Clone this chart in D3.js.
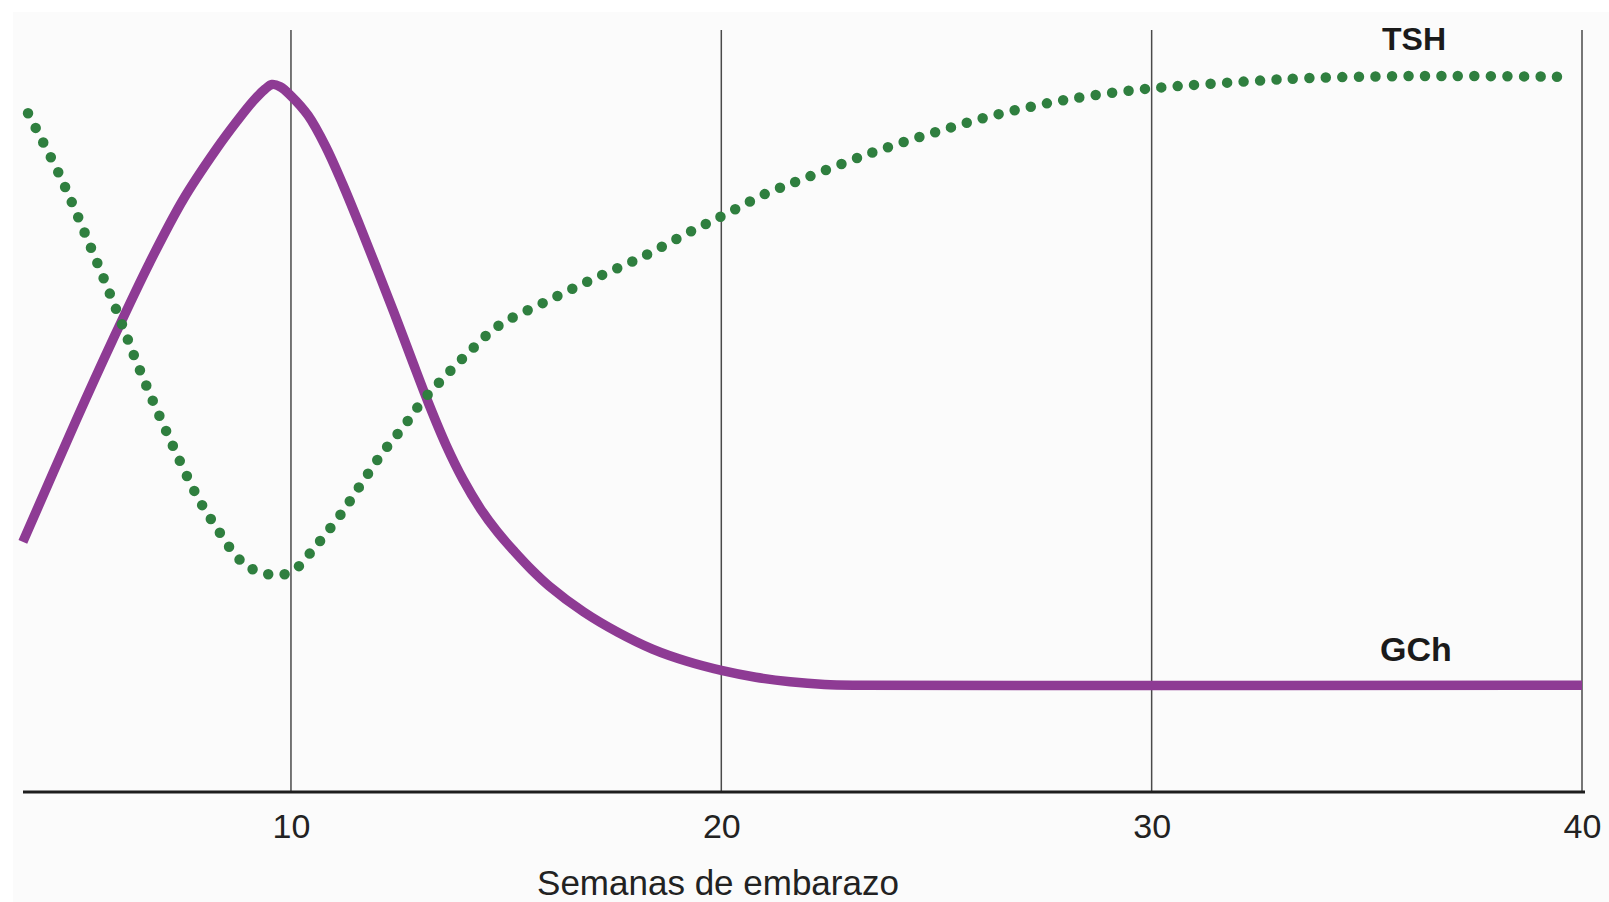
<!DOCTYPE html>
<html>
<head>
<meta charset="utf-8">
<script src="https://cdn.jsdelivr.net/npm/d3@7"></script>
<style>
  html, body { margin: 0; padding: 0; background: #ffffff; }
  svg { display: block; }
  text { font-family: "Liberation Sans", Arial, Helvetica, sans-serif; }
</style>
</head>
<body>
<svg id="chart" width="1609" height="902"></svg>
<script>
// ---- data (weeks of pregnancy, relative level 0-100) ----
const tickWeeks = [10, 20, 30, 40];
const axisTitle = "Semanas de embarazo";

const gchWeeks  = [3.77, 5.0, 5.86, 6.72, 7.49, 8.28, 8.75, 9.12, 9.40, 9.56, 9.75, 10.0, 10.4, 10.8, 11.2, 11.6, 12.0, 12.4, 12.8, 13.2, 13.6, 14.0, 14.4, 14.8, 15.2, 15.6, 16.0, 16.8, 17.6, 18.4, 19.2, 20.0, 20.8, 21.6, 22.4, 23.2, 40.0];
const gchValues = [32.9, 48.8, 59.5, 69.7, 77.9, 84.7, 88.3, 90.9, 92.5, 93.1, 92.8, 91.6, 89.0, 85.0, 80.0, 74.5, 68.8, 63.0, 57.0, 51.1, 45.7, 41.1, 37.3, 34.2, 31.6, 29.2, 27.1, 23.7, 21.0, 18.8, 17.2, 16.0, 15.1, 14.5, 14.15, 14.05, 14.05];

const tshWeeks  = [3.89, 4.63, 5.28, 5.91, 6.49, 7.14, 7.84, 8.28, 8.75, 9.05, 9.42, 9.81, 10.16, 10.44, 10.70, 11.19, 11.65, 12.11, 12.63, 13.09, 13.65, 14.23, 14.81, 15.95, 17.06, 18.16, 19.27, 20.02, 21.06, 21.83, 23.34, 24.90, 26.45, 28.03, 29.66, 30.89, 32.50, 33.45, 35.77, 37.63, 39.65];
const tshValues = [89.3, 81.1, 72.6, 63.9, 55.5, 47.0, 38.7, 34.7, 30.9, 29.5, 28.7, 28.6, 29.6, 31.4, 33.2, 36.8, 40.7, 44.5, 48.2, 51.7, 55.1, 58.4, 61.3, 64.6, 67.6, 70.4, 73.7, 75.8, 78.8, 80.5, 83.8, 86.7, 89.2, 91.1, 92.4, 93.0, 93.6, 93.9, 94.2, 94.2, 94.1];

const seriesNames = ["TSH", "GCh"];

// ---- layout ----
const svg = d3.select("#chart");
const W = 1609, H = 902;

svg.append("rect").attr("x", 0).attr("y", 0).attr("width", W).attr("height", H).attr("fill", "#ffffff");
svg.append("rect").attr("x", 13).attr("y", 12).attr("width", W - 13).attr("height", H - 12).attr("fill", "#fbfbfb");

const x = d3.scaleLinear().domain([3.75, 40]).range([22, 1582]);
const y = d3.scaleLinear().domain([0, 100]).range([792, 32]);

// vertical grid lines
svg.append("g").selectAll("line")
  .data(tickWeeks)
  .join("line")
  .attr("x1", d => x(d)).attr("x2", d => x(d))
  .attr("y1", 30).attr("y2", y(0))
  .attr("stroke", "#4a4a4a")
  .attr("stroke-width", 1.5);

// x axis (labels via d3 axis)
const axis = d3.axisBottom(x)
  .tickValues(tickWeeks)
  .tickSize(0)
  .tickPadding(22)
  .tickFormat(d3.format("d"));
const gAxis = svg.append("g")
  .attr("transform", `translate(0,${y(0)})`)
  .call(axis);
gAxis.select(".domain").remove();
gAxis.selectAll("text")
  .attr("font-size", 34)
  .attr("fill", "#222")
  .attr("font-family", "'Liberation Sans', Arial, Helvetica, sans-serif");

// baseline
svg.append("line")
  .attr("x1", x(3.75) + 1).attr("x2", x(40) + 3)
  .attr("y1", y(0)).attr("y2", y(0))
  .attr("stroke", "#1e1e1e")
  .attr("stroke-width", 3);

// axis title
svg.append("text")
  .attr("x", 718).attr("y", 895)
  .attr("text-anchor", "middle")
  .attr("font-size", 35)
  .attr("fill", "#222")
  .text(axisTitle);

// lines
const line = d3.line()
  .x(d => x(d[0]))
  .y(d => y(d[1]))
  .curve(d3.curveCatmullRom.alpha(0.5));

const gchData = gchWeeks.map((w, i) => [w, gchValues[i]]);
const tshData = tshWeeks.map((w, i) => [w, tshValues[i]]);

svg.append("path")
  .datum(gchData)
  .attr("d", line)
  .attr("fill", "none")
  .attr("stroke", "#8e3b94")
  .attr("stroke-width", 9.5)
  .attr("stroke-linejoin", "round");

svg.append("path")
  .datum(tshData)
  .attr("d", line)
  .attr("fill", "none")
  .attr("stroke", "#2f7f3f")
  .attr("stroke-width", 10.5)
  .attr("stroke-linecap", "round")
  .attr("stroke-dasharray", "0 16.5");

// series labels
svg.append("text")
  .attr("x", 1414).attr("y", 50)
  .attr("text-anchor", "middle")
  .attr("font-size", 32)
  .attr("font-weight", "bold")
  .attr("fill", "#1a1a1a")
  .text(seriesNames[0]);

svg.append("text")
  .attr("x", 1416).attr("y", 661)
  .attr("text-anchor", "middle")
  .attr("font-size", 34)
  .attr("font-weight", "bold")
  .attr("fill", "#1a1a1a")
  .text(seriesNames[1]);
</script>
</body>
</html>
